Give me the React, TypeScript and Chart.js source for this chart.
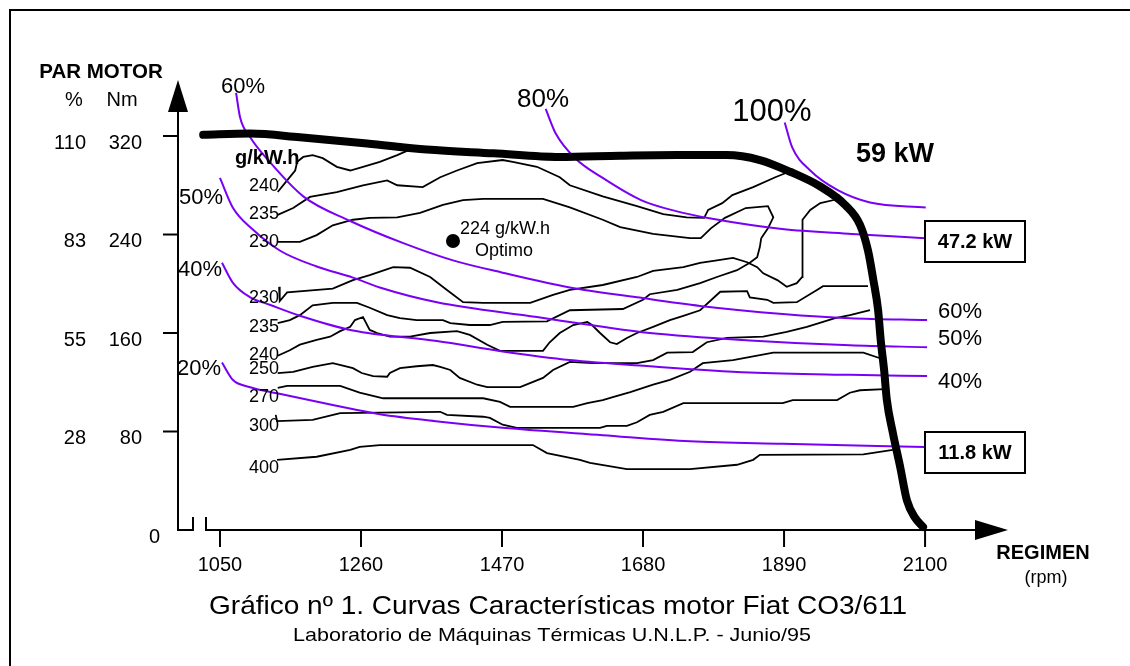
import React, { useEffect, useRef } from "react";
import { Chart, registerables } from "chart.js";

Chart.register(...registerables);

// ---------- axis limits & ticks ----------
const X_MIN = 987.5;
const X_MAX = 2223.5;
const Y_MAX = 365.5;
const rpmTicks = [1050, 1260, 1470, 1680, 1890, 2100];
const nmTicks = [80, 160, 240, 320];
const pctTicks = ["28", "55", "83", "110"];

// ---------- full-load torque curve [rpm, Nm] ----------
const fullLoad: [number, number][] = [
  [1025, 321], [1095, 322], [1169, 319], [1269, 314], [1358, 309], [1457, 306],
  [1556, 303], [1646, 304], [1731, 304.5], [1804, 304.5], [1854, 300.5], [1899, 291],
  [1944, 279], [1981, 264], [2003, 248], [2015, 227], [2023, 203], [2030, 179],
  [2034, 154], [2039, 130], [2043, 106], [2052, 79], [2063, 51], [2073, 24],
  [2085, 10], [2097, 2.5],
];

// ---------- constant power curves [rpm, Nm] ----------
const power100: [number, number][] = [
  [1891, 331], [1902, 311], [1929, 292], [1970, 276], [2018, 266], [2101, 262],
];
const power80: [number, number][] = [
  [1535, 342], [1550, 322], [1579, 302], [1620, 286], [1677, 268], [1729, 259],
  [1781, 253], [1887, 244.5], [1991, 240.5], [2100, 237],
];
const power60: [number, number][] = [
  [1074, 355], [1080, 335], [1095, 319], [1124, 299], [1174, 271], [1244, 251],
  [1323, 233], [1397, 219], [1471, 209], [1571, 197], [1671, 189], [1765, 182],
  [1888, 175.5], [1988, 172], [2103, 170.5],
];
const power50: [number, number][] = [
  [1050, 286], [1069, 262], [1099, 244], [1139, 227], [1194, 214], [1248, 205],
  [1288, 197], [1373, 185], [1522, 173], [1620, 165], [1690, 160], [1839, 154],
  [1988, 150], [2103, 148.5],
];
const power40: [number, number][] = [
  [1053, 217], [1069, 201], [1095, 189], [1124, 183], [1169, 174], [1248, 162],
  [1373, 153.5], [1471, 145], [1571, 138], [1690, 133], [1839, 128], [1988, 126],
  [2103, 125],
];
const power20: [number, number][] = [
  [1053, 136], [1069, 122], [1095, 116], [1135, 111], [1218, 101.5], [1288, 94],
  [1378, 88], [1471, 83], [1620, 77], [1750, 72], [1888, 70], [2100, 67.5],
];

// ---------- iso-consumption contours g/kW.h [rpm, Nm] ----------
const iso240a: [number, number][] = [
  [1136, 274.5], [1150, 284], [1162, 292], [1165, 299], [1174, 303], [1188, 304.5],
  [1203, 302], [1224, 295], [1244, 292], [1263, 295], [1288, 299], [1314, 304.5], [1337, 310],
];
const iso235a: [number, number][] = [
  [1136, 256], [1159, 261.5], [1184, 270.5], [1224, 274.5], [1263, 280], [1299, 284],
  [1314, 280], [1352, 278.5], [1378, 286.5], [1403, 292], [1433, 298], [1471, 300.5],
  [1486, 299], [1522, 295], [1556, 286.5], [1571, 280], [1620, 271], [1671, 263],
  [1710, 256.5], [1745, 254], [1771, 253.5], [1777, 260], [1798, 265.5], [1813, 272],
  [1844, 278.5], [1877, 286.5], [1902, 292],
];
const iso230a: [number, number][] = [
  [1136, 234], [1169, 234], [1194, 239.5], [1218, 247.5], [1248, 252], [1273, 253.5],
  [1314, 254], [1348, 257.5], [1382, 264], [1412, 268], [1442, 269], [1531, 269],
  [1571, 262], [1620, 252], [1646, 246], [1695, 240.5], [1750, 237], [1766, 237],
  [1781, 245], [1802, 253.5], [1833, 261.5], [1866, 263], [1874, 254], [1866, 245], [1856, 237],
];
const iso230b: [number, number][] = [
  [1138, 197.5], [1139, 186], [1150, 193], [1218, 196], [1248, 203], [1273, 207], [1308, 213.5],
  [1333, 213], [1363, 205.5], [1388, 195], [1412, 185], [1442, 184.5], [1512, 184.5],
  [1546, 191], [1571, 195], [1620, 199], [1671, 205.5], [1695, 210.5], [1740, 213.5],
  [1765, 217], [1790, 219], [1814, 221], [1835, 217.5], [1850, 213.5], [1859, 208.5],
  [1880, 203], [1894, 197.5], [1909, 200.5], [1917, 205.5], [1917, 243.5], [1918, 252],
  [1929, 260], [1944, 265.5], [1964, 268], [1973, 272],
];
const iso235b: [number, number][] = [
  [1136, 168], [1154, 170.5], [1169, 174.5], [1188, 182.5], [1218, 184.5], [1254, 184.5],
  [1273, 180.5], [1299, 174.5], [1318, 172], [1343, 170.5], [1382, 170.5], [1393, 168],
  [1422, 166.5], [1452, 166.5], [1471, 169], [1537, 169.5], [1571, 178.5], [1650, 179.5],
  [1680, 187], [1690, 191.5], [1731, 195], [1765, 200.5], [1790, 205.5], [1820, 211],
  [1839, 217], [1850, 221.5], [1854, 230], [1856, 237],
];
const iso240b: [number, number][] = [
  [1136, 141.5], [1154, 146], [1169, 150.5], [1194, 154.5], [1214, 157], [1229, 161.5],
  [1244, 165], [1251, 170.5], [1263, 173], [1273, 162.5], [1284, 160], [1303, 157],
  [1333, 157], [1363, 160], [1403, 161.5], [1422, 158.5], [1448, 150.5], [1467, 145.5],
  [1531, 145.5], [1541, 152.5], [1556, 160], [1576, 166.5], [1597, 169], [1604, 166.5],
  [1616, 160], [1631, 152.5], [1641, 151], [1656, 156], [1671, 160], [1695, 165],
  [1720, 170.5], [1740, 174], [1765, 178.5], [1795, 193.5], [1835, 194], [1839, 189],
  [1865, 187], [1874, 184.5], [1909, 185], [1939, 195], [1948, 198], [2015, 198],
];
const iso250: [number, number][] = [
  [1136, 127.5], [1159, 128.5], [1188, 132.5], [1218, 135.5], [1248, 131.5], [1261, 127.5],
  [1278, 125], [1299, 124.5], [1303, 127.5], [1318, 131.5], [1343, 133], [1367, 134],
  [1378, 132.5], [1393, 130], [1407, 123.5], [1433, 118], [1448, 116], [1497, 116],
  [1531, 123.5], [1546, 130], [1571, 136.5], [1605, 135.5], [1671, 135.5], [1695, 138],
  [1716, 144], [1754, 144.5], [1775, 152.5], [1805, 156], [1859, 157], [1894, 161],
  [1924, 165], [1948, 169], [1966, 172], [1988, 174.5], [2018, 178.5],
];
const iso270: [number, number][] = [
  [1136, 115.5], [1150, 117], [1229, 117], [1258, 111.5], [1293, 107], [1442, 107],
  [1467, 104], [1482, 100], [1576, 100], [1597, 103], [1620, 105.5], [1635, 108],
  [1661, 112], [1695, 118], [1720, 122], [1750, 128.5], [1769, 135.5], [1814, 138],
  [1874, 144], [2008, 144], [2033, 139.5],
];
const iso300: [number, number][] = [
  [1133, 93.5], [1135, 88.5], [1188, 89.5], [1229, 95], [1378, 96], [1388, 93.5], [1442, 92],
  [1452, 91], [1471, 85.5], [1492, 83], [1616, 83], [1626, 84.5], [1656, 84.5],
  [1671, 87.5], [1690, 93.5], [1710, 96], [1740, 103], [1888, 103], [1903, 105.5],
  [1969, 105.5], [1988, 111.5], [2003, 113.5], [2040, 114.5],
];
const iso400: [number, number][] = [
  [1135, 57], [1194, 59.5], [1244, 65], [1258, 67.5], [1288, 69], [1516, 69],
  [1537, 62.5], [1586, 57], [1601, 54.5], [1656, 49.5], [1750, 49.5], [1820, 53],
  [1844, 57], [1854, 61], [2008, 61.5], [2052, 65],
];
const isoCurves = [iso240a, iso235a, iso230a, iso230b, iso235b, iso240b, iso250, iso270, iso300, iso400];
const isoValues = ["240", "235", "230", "230", "235", "240", "250", "270", "300", "400"];

// optimum consumption point [rpm, Nm]
const optimum: [number, number] = [1397, 234.7];
const optimumLabel = "224 g/kW.h";

// power labels
const leftLoadLabels = ["60%", "50%", "40%", "20%"];
const rightLoadLabels = ["60%", "50%", "40%"];
const boxLabels = ["47.2 kW", "11.8 kW"];

const FONT = '"Liberation Sans", Arial, Helvetica, sans-serif';
const PURPLE = "#7a00f5";

function pts(a: [number, number][]) {
  return a.map(([x, y]) => ({ x, y }));
}

function txt(ctx: CanvasRenderingContext2D, s: string, x: number, y: number, size: number, bold = false, align: CanvasTextAlign = "center") {
  ctx.font = `${bold ? "bold " : ""}${size}px ${FONT}`;
  ctx.textAlign = align;
  ctx.textBaseline = "middle";
  ctx.fillStyle = "#000";
  ctx.fillText(s, x, y);
}

// text horizontally fitted to a given width, centred at cx
function txtFit(ctx: CanvasRenderingContext2D, s: string, cx: number, cy: number, size: number, width: number) {
  ctx.save();
  ctx.font = `${size}px ${FONT}`;
  const w = ctx.measureText(s).width;
  const k = width / w;
  ctx.translate(cx, cy);
  ctx.scale(k, 1);
  ctx.textAlign = "center";
  ctx.textBaseline = "middle";
  ctx.fillStyle = "#000";
  ctx.fillText(s, 0, 0);
  ctx.restore();
}

function line(ctx: CanvasRenderingContext2D, x1: number, y1: number, x2: number, y2: number) {
  ctx.beginPath();
  ctx.moveTo(x1, y1);
  ctx.lineTo(x2, y2);
  ctx.stroke();
}

const overlay = {
  id: "overlay",
  beforeDatasetsDraw(chart: any) {
    const ctx: CanvasRenderingContext2D = chart.ctx;
    const xs = chart.scales.x;
    const ys = chart.scales.y;
    const L = chart.chartArea.left;
    const R = chart.chartArea.right;
    const T = chart.chartArea.top;
    const B = ys.getPixelForValue(0);
    ctx.save();
    ctx.strokeStyle = "#000";
    ctx.fillStyle = "#000";
    ctx.lineWidth = 2;
    ctx.lineCap = "butt";
    // frame (top & left visible)
    line(ctx, 10, 10, 1130, 10);
    line(ctx, 10, 9, 10, 666);
    // y axis
    line(ctx, L, B + 1, L, T + 30);
    ctx.beginPath();
    ctx.moveTo(L, T);
    ctx.lineTo(L - 10, T + 32);
    ctx.lineTo(L + 10, T + 32);
    ctx.closePath();
    ctx.fill();
    // x axis with break
    line(ctx, L - 1, B, L + 15, B);
    line(ctx, L + 15, B - 13, L + 15, B + 1);
    line(ctx, L + 28, B - 13, L + 28, B + 1);
    line(ctx, L + 27, B, R - 32, B);
    ctx.beginPath();
    ctx.moveTo(R, B);
    ctx.lineTo(R - 33, B - 10);
    ctx.lineTo(R - 33, B + 10);
    ctx.closePath();
    ctx.fill();
    // y ticks & labels
    nmTicks.forEach((v, i) => {
      const y = ys.getPixelForValue(v);
      line(ctx, L - 15, y, L, y);
      txt(ctx, pctTicks[i], 86, y + 7, 20, false, "right");
      txt(ctx, String(v), 142, y + 7, 20, false, "right");
    });
    txt(ctx, "0", 160, B + 7, 20, false, "right");
    // x ticks & labels
    rpmTicks.forEach((v) => {
      const x = xs.getPixelForValue(v);
      line(ctx, x, B, x, B + 17);
      txt(ctx, String(v), x, B + 35, 20);
    });
    // axis titles
    txt(ctx, "PAR MOTOR", 101, 72, 20.5, true);
    txt(ctx, "%", 74, 100, 20);
    txt(ctx, "Nm", 122, 100, 20);
    txt(ctx, "REGIMEN", 1043, 553, 20, true);
    txt(ctx, "(rpm)", 1046, 578, 18);
    // titles
    txtFit(ctx, "Gráfico nº 1. Curvas Características motor Fiat CO3/611", 558, 607, 26, 698);
    txtFit(ctx, "Laboratorio de Máquinas Térmicas U.N.L.P. - Junio/95", 552, 636, 19, 518);
    ctx.restore();
  },
  afterDatasetsDraw(chart: any) {
    const ctx: CanvasRenderingContext2D = chart.ctx;
    const xs = chart.scales.x;
    const ys = chart.scales.y;
    ctx.save();
    // contour labels
    const isoY = [186, 214, 242, 298, 327, 355, 369, 397, 426, 468];
    isoValues.forEach((s, i) => txt(ctx, s, 279, isoY[i], 18, false, "right"));
    txt(ctx, "g/kW.h", 235, 158, 20, true, "left");
    // optimum label
    const ox = xs.getPixelForValue(optimum[0]);
    const oy = ys.getPixelForValue(optimum[1]);
    txt(ctx, optimumLabel, ox + 7, oy - 12, 18, false, "left");
    txt(ctx, "Optimo", ox + 22, oy + 10, 18, false, "left");
    // load labels left
    const leftPos = [[243, 87], [201, 198], [200, 270], [199, 369]];
    leftLoadLabels.forEach((s, i) => txt(ctx, s, leftPos[i][0], leftPos[i][1], 22));
    txt(ctx, "80%", 543, 100, 26);
    txt(ctx, "100%", 772, 112, 31);
    txt(ctx, "59 kW", 895, 155, 27, true);
    // right labels
    const rightY = [312, 339, 382];
    rightLoadLabels.forEach((s, i) => txt(ctx, s, 938, rightY[i], 22, false, "left"));
    // boxes
    const boxY = [221, 432];
    ctx.strokeStyle = "#000";
    ctx.lineWidth = 2;
    boxLabels.forEach((s, i) => {
      ctx.fillStyle = "#fff";
      ctx.fillRect(925, boxY[i], 100, 41);
      ctx.strokeRect(925, boxY[i], 100, 41);
      txt(ctx, s, 975, boxY[i] + 21, 20, true);
    });
    ctx.restore();
  },
};

export default function App() {
  const ref = useRef<HTMLCanvasElement>(null);
  useEffect(() => {
    if (!ref.current) return;
    const contourSets = isoCurves.map((c) => ({
      data: pts(c),
      borderColor: "#000",
      borderWidth: 1.8,
      pointRadius: 0,
      tension: 0,
      fill: false,
      order: 3,
      clip: false as any,
    }));
    const purple = (c: [number, number][]) => ({
      data: pts(c),
      borderColor: PURPLE,
      borderWidth: 2,
      pointRadius: 0,
      cubicInterpolationMode: "monotone" as const,
      fill: false,
      order: 2,
      clip: false as any,
    });
    const chart = new Chart(ref.current, {
      type: "line",
      data: {
        datasets: [
          {
            data: pts(fullLoad),
            borderColor: "#000",
            borderWidth: 8,
            borderCapStyle: "round",
            borderJoinStyle: "round",
            pointRadius: 0,
            cubicInterpolationMode: "monotone",
            fill: false,
            order: 0,
            clip: false as any,
          },
          {
            data: [{ x: optimum[0], y: optimum[1] }],
            showLine: false,
            pointRadius: 7,
            pointBackgroundColor: "#000",
            pointBorderWidth: 0,
            order: 1,
          },
          purple(power100),
          purple(power80),
          purple(power60),
          purple(power50),
          purple(power40),
          purple(power20),
          ...contourSets,
        ] as any,
      },
      options: {
        animation: false,
        responsive: false,
        events: [],
        layout: { padding: { left: 178, right: 122, top: 80, bottom: 136 } },
        plugins: { legend: { display: false }, tooltip: { enabled: false } },
        scales: {
          x: { type: "linear", min: X_MIN, max: X_MAX, display: false },
          y: { type: "linear", min: 0, max: Y_MAX, display: false },
        },
      },
      plugins: [overlay],
    });
    return () => chart.destroy();
  }, []);
  return (
    <div style={{ position: "absolute", left: 0, top: 0, width: 1130, height: 666, background: "#fff" }}>
      <canvas ref={ref} width={1130} height={666} style={{ display: "block" }} />
    </div>
  );
}
